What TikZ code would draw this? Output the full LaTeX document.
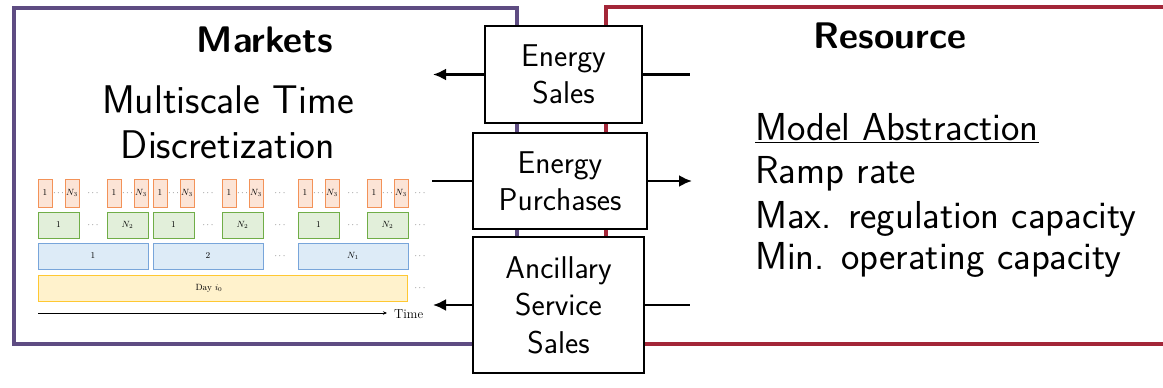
\documentclass[tikz,border=0pt]{standalone}
\usepackage{fontspec}
\usetikzlibrary{arrows.meta}
\definecolor{mktcol}{RGB}{94,76,130}
\definecolor{rescol}{RGB}{163,38,56}
\definecolor{ofill}{RGB}{252,228,214}
\definecolor{odraw}{RGB}{243,146,88}
\definecolor{gfill}{RGB}{226,239,218}
\definecolor{gdraw}{RGB}{112,173,71}
\definecolor{bfill}{RGB}{221,235,247}
\definecolor{bdraw}{RGB}{120,165,218}
\definecolor{yfill}{RGB}{255,242,204}
\definecolor{ydraw}{RGB}{255,200,50}
\begin{document}
\begin{tikzpicture}[x=1pt,y=-1pt,
  frame/.style={draw, line width=4pt, inner sep=0pt},
  title/.style={anchor=base, inner sep=0pt, font=\sffamily\bfseries\fontsize{37}{42}\selectfont},
  bigtext/.style={inner sep=0pt, font=\sffamily\fontsize{40}{46}\selectfont},
  listtext/.style={inner sep=0pt, anchor=base west, font=\sffamily\fontsize{39}{45}\selectfont},
  flowbox/.style={draw, line width=1.8pt, fill=white, align=center, inner sep=0pt,
    font=\sffamily\fontsize{31.5}{37.5}\selectfont},
  flow/.style={line width=2.4pt, -{Latex[length=13pt,width=12pt]}},
  plainflow/.style={line width=2.4pt},
  cell/.style={draw, line width=0.9pt, inner sep=0pt, font=\fontsize{9}{10}\selectfont},
  ocell/.style={cell, draw=odraw, fill=ofill, minimum width=14pt, minimum height=28pt},
  gcell/.style={cell, draw=gdraw, fill=gfill, minimum width=41pt, minimum height=26pt},
  bcell/.style={cell, draw=bdraw, fill=bfill, minimum width=110pt, minimum height=26pt},
  ycell/.style={cell, draw=ydraw, fill=yfill, minimum width=369pt, minimum height=26pt},
  dots/.style={inner sep=0pt, text=black!75, font=\fontsize{9}{10}\selectfont},
]
\useasboundingbox (0,0) rectangle (1163,388);

% the two frames
\node[frame, draw=mktcol, minimum width=503pt, minimum height=336pt] (markets) at (265.5,176) {};
\node[frame, draw=rescol, minimum width=694pt, minimum height=337pt] (resource) at (953,175.5) {};

\node[title] (mkttitle) at (265,52) {Markets};
\node[title] (restitle) at (890,48) {Resource};

% left panel: multiscale time discretization
\node[bigtext, anchor=base] (ms1) at (228,113) {Multiscale Time};
\node[bigtext, anchor=base] (ms2) at (228,158) {Discretization};

\foreach \b/\lab [count=\k] in {38/1, 153/2, 298/N_1} {
  \node[bcell] (blue\k) at (\b+55,256) {$\lab$};
  \node[dots] (gdots\k) at (\b+55,225) {$\cdots$};
  \node[dots] (odots\k) at (\b+55,193) {$\cdots$};
  \foreach \off/\glab [count=\j] in {0/1, 69/N_2} {
    \node[gcell] (green\k\j) at (\b+\off+20.5,225) {$\glab$};
    \node[ocell] (ofirst\k\j) at (\b+\off+7,193) {$1$};
    \node[ocell] (olast\k\j) at (\b+\off+34,193) {$N_3$};
    \node[dots] (oin\k\j) at (\b+\off+20.5,193) {$\cdots$};
  }
}
\node[dots] (ogap) at (280,193) {$\cdots$};
\node[dots] (ggap) at (280,225) {$\cdots$};
\node[dots] (bgap) at (280,256) {$\cdots$};
\node[ycell] (day) at (222.5,288) {};
\node[inner sep=0pt, font=\fontsize{9}{10}\selectfont] (daylab) at (209,288) {Day $i_0$};
\foreach \y/\r in {193/o, 225/g, 256/b, 288/y} {
  \node[dots] (\r end) at (420,\y) {$\cdots$};
}
\coordinate (tstart) at (38,313);
\coordinate (tend) at (387,313);
\draw[line width=0.8pt, -{Stealth[length=4pt,width=3.5pt]}] (tstart) -- (tend);
\node[anchor=west, inner sep=0pt, font=\fontsize{13}{14}\selectfont] (timelab) at (394,314) {Time};

% right panel: model abstraction
\node[listtext] (ma) at (755,140) {\underline{Model Abstraction}};
\node[listtext] (ramp) at (755,183) {Ramp rate};
\node[listtext] (maxreg) at (755,228) {Max. regulation capacity};
\node[listtext] (minop) at (755,269) {Min. operating capacity};

% exchange boxes between the two frames
\node[flowbox, minimum width=157pt, minimum height=97pt] (sales) at (563.5,74.5) {Energy\\Sales};
\node[flowbox, minimum width=174pt, minimum height=96pt] (purch) at (560,181) {Energy\\Purchases};
\node[flowbox, minimum width=171pt, minimum height=136pt] (anc) at (558.5,305) {Ancillary\\Service\\Sales};

\coordinate (salesL) at (433,74.5);
\coordinate (salesR) at (690,74.5);
\coordinate (purchL) at (432,181);
\coordinate (purchR) at (692,181);
\coordinate (ancL) at (433,305);
\coordinate (ancR) at (690,305);

\draw[flow] (sales.west) -- (salesL);
\draw[plainflow] (sales.east) -- (salesR);
\draw[plainflow] (purchL) -- (purch.west);
\draw[flow] (purch.east) -- (purchR);
\draw[flow] (anc.west) -- (ancL);
\draw[plainflow] (anc.east) -- (ancR);
\end{tikzpicture}
\end{document}
